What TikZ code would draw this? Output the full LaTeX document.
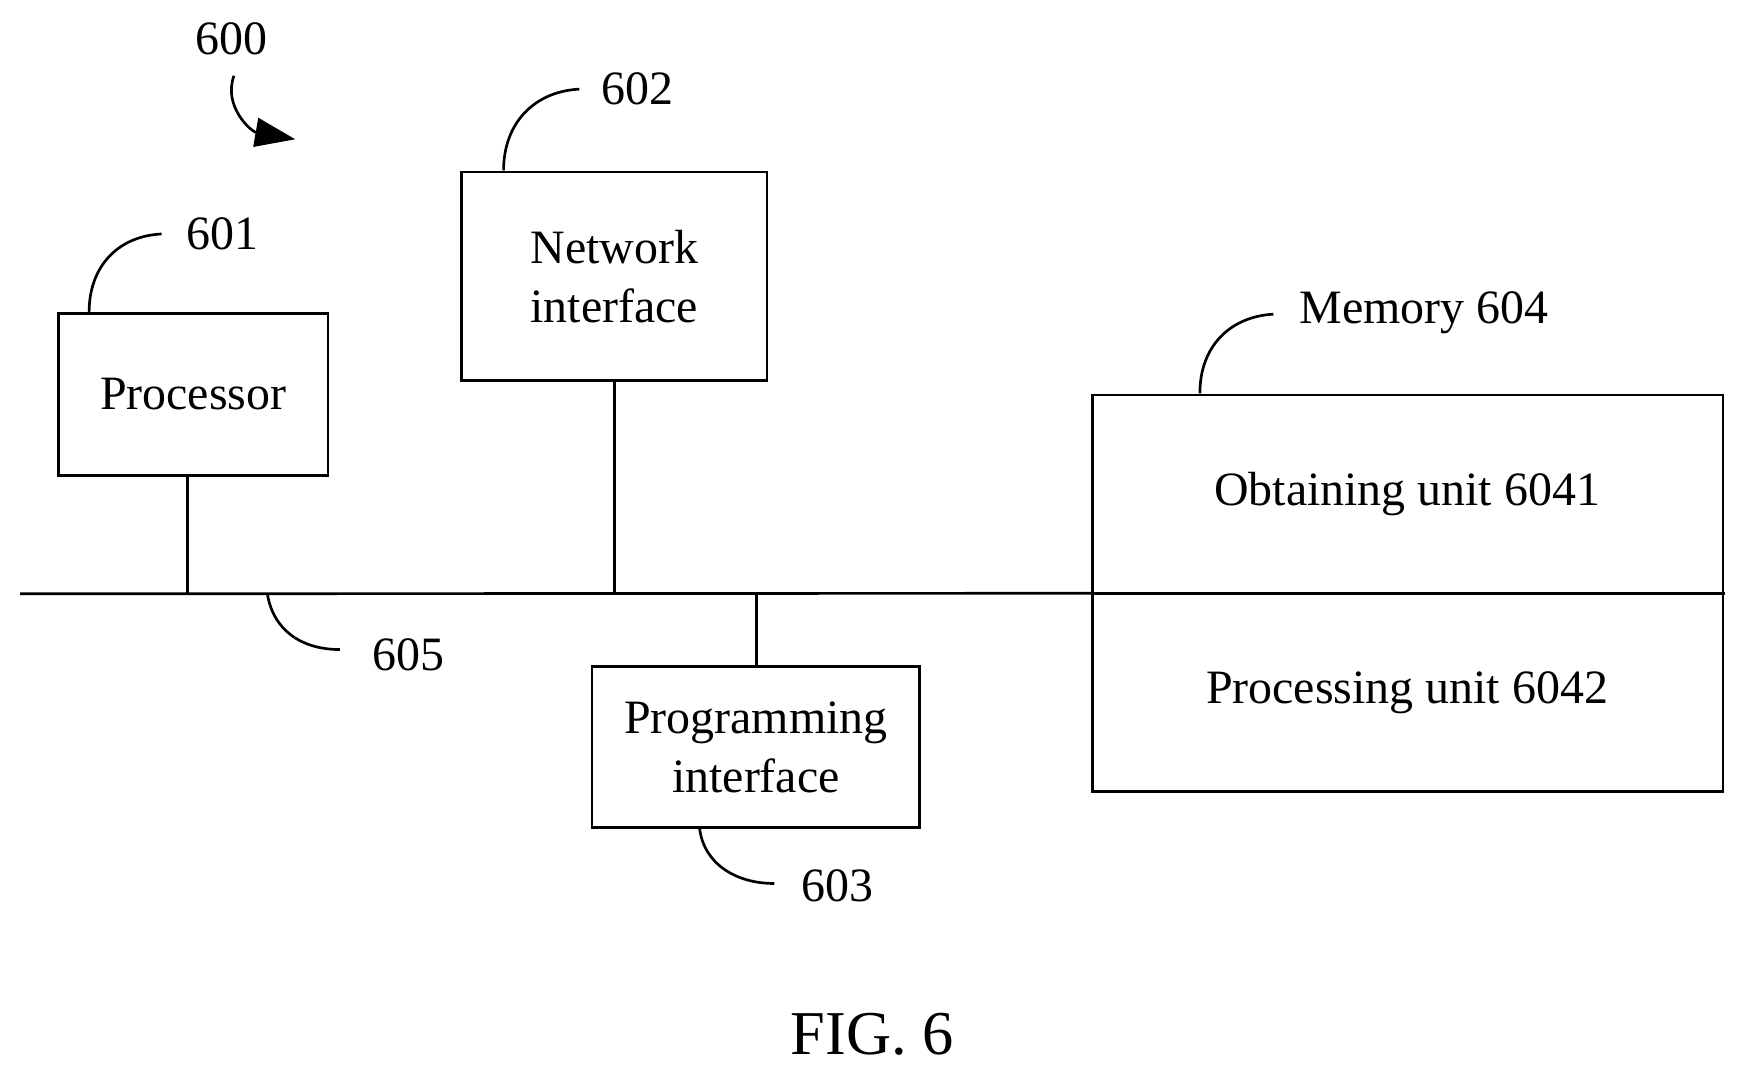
\documentclass[tikz,border=0pt]{standalone}
\usepackage{fontspec}
\setmainfont{Liberation Serif}
\usetikzlibrary{arrows.meta}
\begin{document}
\begin{tikzpicture}[x=0.5pt,y=-0.5pt,
  box/.style={draw,line width=1.2pt,inner sep=0pt,outer sep=0pt},
  ln/.style={line width=1.2pt},
  txt/.style={font=\fontsize{21.5}{26.5}\selectfont,align=center,inner sep=0pt}]
\useasboundingbox (0,0) rectangle (1560,960);
\node[txt] (l600) at (208,35) {600};
\coordinate (a0) at (210,68); \coordinate (a1) at (265,125);
\draw[ln,-{Triangle[length=18pt,width=13pt]}] (a0) .. controls (200,95) and (225,118) .. (a1);
% processor
\node[box,minimum width=121pt,minimum height=72.5pt] (proc) at (173.5,354) {};
\node[txt] (proct) at (proc.center) {Processor};
\node[txt] (l601) at (200,210) {601};
\coordinate (p601) at (80,280);
\draw[ln] (p601) .. controls (80,240) and (105,212) .. (145,210);
% network
\node[box,minimum width=137pt,minimum height=93.5pt] (net) at (551.5,248) {};
\node[txt] (nett) at (551.5,248) {Network\\interface};
\node[txt] (l602) at (572,80) {602};
\coordinate (p602) at (452,153);
\draw[ln] (p602) .. controls (452,110) and (480,82) .. (520,80);
% programming
\node[box,minimum width=147pt,minimum height=72pt] (prog) at (678.5,670.5) {};
\node[txt] (progt) at (678.5,670.5) {Programming\\interface};
\node[txt] (l603) at (752,795) {603};
\coordinate (p603) at (628,744);
\draw[ln] (p603) .. controls (632,775) and (660,793) .. (695,793);
% memory
\node[box,minimum width=283pt,minimum height=178pt] (mem) at (1263.5,532.5) {};
\draw[ln] (979,533) -- (1548,533);
\node[txt] (obt) at (1263,443) {Obtaining unit 6041};
\node[txt] (prc) at (1263,622) {Processing unit 6042};
\node[txt] (l604) at (1278,281) {Memory 604};
\coordinate (p604) at (1077,353);
\draw[ln] (p604) .. controls (1077,310) and (1105,284) .. (1143,282);
% bus
\coordinate (b0) at (18,533);
\draw[ln] (b0) -- (mem.west);
\draw[ln] (168,428) -- (168,533);
\draw[ln] (net.south) -- (551.5,533);
\draw[ln] (679,533) -- (prog.north -| 679,0);
\node[txt] (l605) at (367,588) {605};
\coordinate (p605) at (240,533);
\draw[ln] (p605) .. controls (245,565) and (270,583) .. (305,583);
\node[font=\fontsize{28}{34}\selectfont,inner sep=0pt] (fig) at (783,928) {FIG. 6};
\end{tikzpicture}
\end{document}
